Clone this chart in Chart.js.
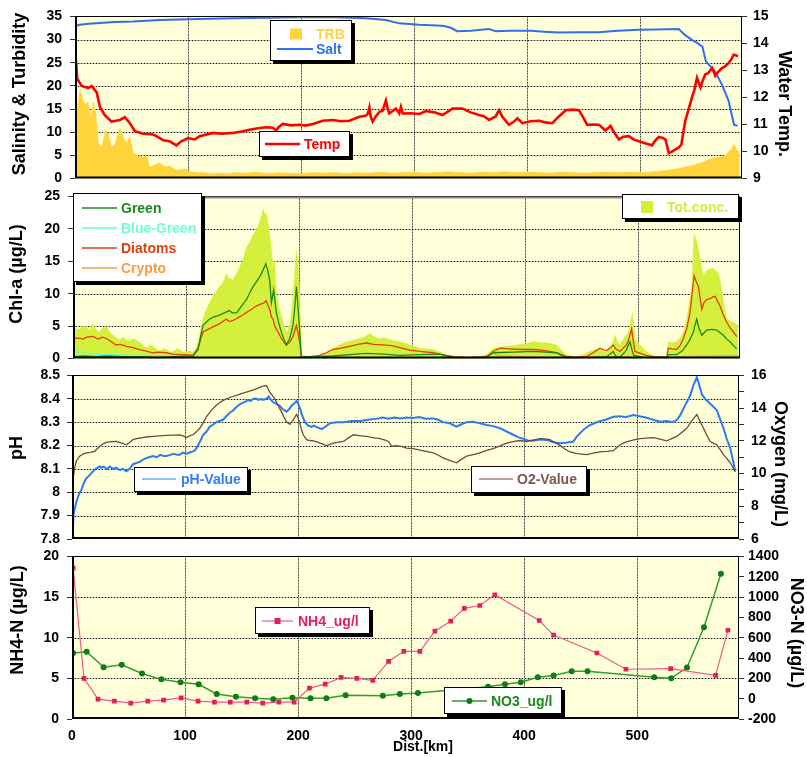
<!DOCTYPE html>
<html lang="en">
<head>
<meta charset="utf-8">
<title>Transect profile</title>
<script src="https://cdn.jsdelivr.net/npm/chart.js@4.4.1/dist/chart.umd.min.js"></script>
<style>
  html, body { margin: 0; padding: 0; background: #ffffff; }
  #page { position: relative; width: 807px; height: 757px; overflow: hidden; background: #ffffff; }
  #page canvas { position: absolute; left: 0; }
</style>
</head>
<body>
<div id="page">
  <canvas id="panelSalt" width="807" height="195" style="top:0px"></canvas>
  <canvas id="panelChl" width="807" height="195" style="top:180px"></canvas>
  <canvas id="panelPh" width="807" height="195" style="top:360px"></canvas>
  <canvas id="panelN" width="807" height="217" style="top:540px"></canvas>
</div>
<script>
// ---------- Readings along the transect: [distance km, value] ----------

// Turbidity (left axis)
const turbidity = [[0,10.8],[0.9,11.2],[2.5,16],[4.4,19.3],[6.8,17.2],[8.8,16.1],[11.8,16.5],[13.8,13.0],[16.2,16.5],[18.5,14.0],
  [20.6,7.7],[23.5,6.7],[27.4,10.5],[29.4,9.8],[32.4,6.7],[35.3,7.4],[39.7,10.9],[42.7,8.8],[45.6,7.7],[48.5,9.0],
  [51.5,5.6],[55.9,4.9],[60.3,4.6],[63.3,5.0],[66.2,2.5],[70.6,3.0],[75,3.4],[79.4,2.5],[83.8,2.7],[89.7,1.8],
  [97.1,2.1],[101.5,1.5],[108,1.3],[113.3,1.3],[120,1.1],[128,1.2],[135,1.1],[142.7,1.3],[150,1.2],[160.4,1.4],
  [170,1.1],[180,1.3],[190,1.2],[200,1.1],[210,1.3],[220,1.2],[230,1.3],[240,1.1],[250,1.3],[260,1.2],
  [270,1.4],[280,1.2],[290,1.3],[300,1.4],[310,1.2],[320,1.3],[330,1.5],[340,1.3],[350,1.2],[360,1.4],
  [370,1.3],[380,1.5],[390,1.3],[400,1.4],[410,1.3],[420,1.2],[430,1.4],[440,1.3],[450,1.2],[460,1.3],
  [470,1.4],[480,1.3],[490,1.4],[500,1.3],[512,1.5],[522,1.75],[534,2.2],[546,2.8],[556,3.6],[563,4.4],
  [570,4.6],[575,4.9],[580,6.3],[583,7.4],[586,6.0],[588,5.8]];

// Salinity (left axis)
const salinity = [[0,31.6],[1,33.0],[4.4,33.2],[12,33.4],[22,33.6],[35,33.8],[51.4,33.9],[75,34.2],[100,34.4],[120,34.5],
  [139.7,34.6],[170,34.7],[198.6,34.8],[230,34.8],[257.4,34.6],[275,34.2],[286.8,33.5],[304.5,33.2],[325,33.0],[332,32.6],
  [338,31.8],[350,31.9],[366,32.3],[372,31.8],[385,31.9],[404,31.9],[415,31.7],[428,31.5],[445,31.6],[463,31.6],
  [480,31.9],[499,32.1],[515,32.2],[534,32.3],[540,30.9],[546,29.9],[551,29.2],[553,28.8],[555,28.5],[558,25.3],
  [566,23.2],[572,20.4],[578,16.9],[583,11.6],[586,11.4]];

// Water temperature (right axis, °C)
const waterTemp = [[0,14.1],[0.6,13.5],[2,12.7],[5.9,12.43],[11.8,12.35],[14.7,12.43],[19.2,12.19],[22,11.65],[26.4,11.35],[32.3,11.11],
  [39.7,11.17],[44.1,11.27],[48.5,11.05],[53,10.75],[60.3,10.66],[69.1,10.63],[72,10.57],[78,10.42],[83.8,10.38],[89.7,10.23],
  [94.1,10.38],[100,10.5],[105.9,10.45],[110.3,10.57],[122,10.69],[130,10.66],[139.7,10.69],[147,10.74],[154.4,10.81],[162,10.86],
  [169.1,10.9],[175,10.88],[178,10.78],[180,10.9],[183.9,11.02],[191,10.97],[198.6,10.99],[204,10.96],[210.4,11.02],[219.2,11.14],
  [228,11.17],[235,11.12],[242.7,11.14],[251.5,11.29],[257,11.32],[259,11.4],[260.4,11.63],[261.5,11.3],[263.3,11.11],[266,11.3],
  [269.2,11.47],[272,11.5],[275,11.89],[276.5,11.6],[278,11.41],[281,11.5],[283.9,11.59],[286.8,11.41],[288.3,11.65],[289.8,11.41],
  [297,11.42],[304.5,11.39],[310.4,11.5],[318,11.45],[325.1,11.35],[333.9,11.59],[342.7,11.59],[350,11.45],[357.5,11.35],[362,11.3],
  [366.3,11.17],[372,11.3],[375.1,11.53],[378,11.29],[383.9,10.99],[388,11.1],[391.3,11.23],[395.7,11.05],[403,11.12],[410.4,11.14],
  [416,11.08],[422.2,11.05],[428,11.3],[434,11.53],[440,11.55],[445.7,11.53],[449,11.3],[453.1,10.99],[458,11.0],[463.4,10.99],
  [469.3,10.78],[473.7,10.95],[477,10.7],[481.1,10.45],[485,10.55],[489.9,10.57],[494,10.45],[498.7,10.38],[505,10.3],[510.5,10.23],
  [513,10.4],[516.4,10.54],[520,10.5],[522.3,10.45],[525.2,9.94],[528,10.0],[531.1,10.08],[534,10.15],[536.4,10.26],[538,10.7],
  [540,11.17],[543,11.6],[545.8,12.01],[548,12.3],[550.2,12.73],[553.2,12.37],[555,12.6],[557.6,12.86],[560,12.9],[563.5,13.09],
  [565,12.95],[566.4,12.8],[569,12.95],[572.3,13.09],[575,13.15],[578.2,13.28],[580.5,13.4],[582.6,13.58],[584.5,13.56],[586.4,13.52]];

// Chlorophyll-a total concentration (µg/L)
const chlTotal = [[0,5.1],[3,4.5],[5.9,4.6],[9,5.0],[11.8,4.9],[14.7,4.4],[17.7,5.4],[20,4.5],[23.6,4.1],[26,4.7],
  [29.5,4.9],[32,4.2],[35.4,3.6],[38,3.2],[41.3,2.9],[44,3.3],[47.2,2.9],[50,2.7],[53.1,3.1],[56,2.8],
  [59,2.6],[62,2.0],[64.9,1.6],[68,2.1],[70.8,1.9],[74,1.4],[76.7,1.1],[80,1.5],[82.6,1.4],[86,1.0],
  [88.5,1.1],[92,1.5],[94.4,1.4],[97,1.0],[100.3,1.1],[103,1.2],[106.2,0.9],[108.5,1.4],[110.6,2.4],[112.5,4.0],
  [115,6.1],[117,7.2],[119.5,8.1],[121.5,8.9],[123.9,9.6],[126.5,10.3],[129.8,11.1],[132.5,11.6],[135.7,13.1],[138,12.4],
  [141.6,12.1],[144.5,13.0],[147.5,14.1],[150.5,15.3],[153.4,17.1],[156.5,18.0],[159.3,19.1],[162,19.8],[165.2,21.1],[166.8,22.0],
  [168.1,23.1],[169.5,22.2],[171,22.4],[172.5,20.8],[174,19.1],[175.5,16.5],[176.9,14.1],[178.5,15.2],[179.9,10.1],[182,8.0],
  [184.3,6.6],[186.5,5.2],[188.7,4.1],[190.2,4.4],[191.7,5.1],[193,7.0],[194.6,9.6],[196,12.8],[197.6,16.6],[198.3,15.6],
  [199,14.6],[200.5,10.0],[202,0.6],[206.4,0.3],[212,0.4],[218.2,0.3],[224,0.9],[230,1.6],[236,2.1],[241.8,2.6],
  [247,2.8],[253.6,3.1],[258,3.3],[262.4,3.9],[266,3.4],[271.3,3.1],[276,3.2],[280.1,2.9],[284,2.8],[289,2.6],
  [294,2.4],[298,2.1],[302,1.9],[306.8,1.6],[312,1.5],[318.6,1.4],[324.5,1.0],[330,0.6],[336.3,0.4],[342,0.3],
  [348.1,0.2],[355,0.3],[360,0.3],[365.8,0.3],[368,1.0],[371.7,1.6],[377.6,1.7],[383.5,1.9],[389,2.0],[395.3,2.2],
  [401,2.3],[407.1,2.6],[413,2.5],[418.9,2.4],[423,2.3],[427.7,2.1],[432,1.3],[436.6,0.6],[441,0.4],[445.4,0.3],
  [450,0.5],[454.3,0.9],[460,1.3],[466.1,1.6],[469,1.2],[472,0.9],[476,1.8],[479.4,3.6],[481.5,2.6],[483.8,2.1],
  [486.5,2.9],[489.7,3.6],[491.5,4.2],[492.7,5.1],[494.1,6.5],[494.7,7.1],[495.6,5.6],[497.1,3.1],[499,2.6],[501.5,2.1],
  [504,1.6],[507.4,1.1],[512,0.6],[516.3,0.3],[521,0.2],[525.1,0.2],[526.6,2.6],[530,2.4],[534,2.6],[537,3.2],
  [539.9,4.1],[541.5,5.0],[542.8,6.1],[545,8.4],[547.3,11.1],[548.3,15.0],[549.4,19.1],[550.5,18.6],[551.7,18.1],[553.2,16.8],
  [554.7,15.6],[556.2,14.0],[557.6,12.6],[559,13.2],[560.6,13.6],[563.5,13.8],[566.5,13.9],[568,13.6],[569.4,13.4],[570.9,13.1],
  [572.4,12.0],[573.8,10.6],[575.3,8.8],[578.3,6.1],[581.2,5.8],[584.2,5.6],[586.5,5.3],[588.6,5.1]];

// Green algae
const chlGreen = [[0,0.3],[10,0.4],[20,0.3],[30,0.4],[45,0.3],[60,0.3],[75,0.2],[90,0.3],[106.2,0.4],[110.6,1.4],
  [113,3.5],[115,5.1],[119.5,5.9],[123.9,6.4],[128,6.6],[132,6.9],[135.7,7.2],[138,7.4],[141.6,7.0],[145,7.1],
  [149,8.1],[153.4,9.1],[156,10.0],[159.3,11.1],[162,11.8],[165.2,12.6],[168,13.6],[170.5,14.6],[172,13.8],[174,12.1],
  [175.5,8.6],[177.5,10.6],[179.9,7.1],[182,5.5],[184.3,4.1],[186.5,3.0],[188.7,2.1],[190.2,2.6],[191.7,3.1],[194.6,5.1],
  [196.5,8.5],[197.6,11.1],[198.6,9.0],[199.6,6.6],[201,3.0],[202,0.3],[215,0.3],[230,0.4],[245,0.6],[259.5,0.8],
  [275,0.7],[289,0.5],[306.8,0.6],[324.5,0.7],[336,0.2],[348,0.1],[365,0.1],[371.7,0.9],[390,1.0],[407.1,1.1],
  [418,1.0],[427.7,0.9],[436.6,0.1],[460,0.2],[472,0.3],[477.9,1.1],[480,0.4],[483.8,0.2],[489,1.2],[492.7,2.6],
  [494.5,1.3],[496,0.5],[505,0.2],[525.1,0.1],[526.6,0.6],[534,0.6],[539,1.2],[542.8,2.1],[546,3.0],[548.8,4.1],
  [550,5.0],[551.7,6.1],[553.5,4.8],[556.2,3.6],[560.6,4.4],[565,4.5],[569.4,4.4],[572.5,4.0],[575.3,3.6],[578.3,3.0],
  [581.2,2.6],[584.2,2.0],[587.1,1.5]];

// Blue-green algae
const chlBlueGreen = [[0,0.4],[1.5,1.0],[3,1.3],[5,1.0],[7,1.2],[10,0.9],[14,0.8],[20,0.7],[25,0.6],[35,0.6],
  [50,0.5],[65,0.5],[80,0.4],[95,0.3],[110,0.2],[130,0.1],[200,0.1],[250,0.1],[300,0.1],[350,0.1],
  [400,0.1],[450,0.1],[500,0.1],[530,0.2],[560,0.2],[588,0.2]];

// Diatoms
const chlDiatoms = [[0,2.9],[3,3.2],[5.9,3.1],[9,3.0],[12,3.3],[17.7,3.4],[22,3.0],[26,3.3],[29.5,3.1],[34,2.6],
  [38,2.1],[42,2.2],[47.2,1.9],[53,1.7],[59,1.4],[64,1.2],[70.8,0.9],[76,1.0],[82.6,0.9],[88,0.7],
  [94.4,0.6],[100,0.6],[106.2,0.5],[110.6,1.6],[113,3.0],[115,4.1],[119.5,4.5],[123.9,4.9],[129.8,5.4],[135.7,6.1],
  [138,5.7],[141.6,5.9],[144,6.1],[148,6.5],[153.4,7.1],[158,7.6],[162,8.1],[166,8.4],[169,8.6],[171,8.9],
  [172.5,8.2],[174,7.6],[175.5,6.4],[176.9,6.1],[178.5,5.0],[181.4,4.1],[184.3,3.1],[188.7,2.1],[191.7,2.5],[194.6,3.4],
  [197.6,5.1],[199,4.0],[200.5,2.6],[202,0.3],[210,0.3],[218.2,0.5],[224,0.9],[230,1.4],[237,1.6],[244.7,1.9],
  [252,2.2],[259.5,2.4],[266,2.2],[274.2,2.1],[282,2.0],[289,1.7],[298,1.3],[306.8,1.1],[318.6,0.9],[326,0.6],
  [336.3,0.3],[350,0.2],[365.8,0.3],[371.7,1.1],[377.6,1.6],[386,1.5],[395,1.4],[407.1,1.4],[414,1.3],[421.8,1.1],
  [428,0.9],[436.6,0.3],[445,0.2],[454.3,0.3],[460,0.9],[466.1,1.6],[472,1.2],[477.9,2.1],[480,1.5],[483.8,1.1],
  [486.5,1.6],[489.7,2.1],[492,3.2],[494.1,4.6],[495.5,2.8],[497.1,1.1],[502,0.8],[507,0.5],[513.3,0.3],[525.1,0.2],
  [526.6,1.6],[530,1.5],[534,1.4],[537,2.0],[539.9,3.1],[542.8,4.6],[545.8,7.1],[547.5,9.8],[549.4,12.8],[551,12.0],
  [553.2,11.1],[554.7,9.3],[556.2,7.6],[558,8.6],[560.6,9.1],[564,9.3],[566,9.5],[568,9.6],[570,8.9],[572.4,8.1],
  [575,6.8],[578.3,5.6],[581,4.8],[584.2,4.1],[587.1,3.4]];

// Cryptophytes
const chlCrypto = [[0,0.2],[40,0.2],[80,0.1],[120,0.1],[200,0.1],[260,0.1],[330,0.1],[360,0.2],[368,0.6],[372,0.9],
  [376,0.4],[420,0.2],[470,0.3],[500,0.2],[540,0.3],[575,0.4],[588,0.4]];

// pH (left axis)
const phValue = [[0.3,7.81],[1.5,7.91],[3.9,7.96],[6,7.99],[8.3,8.01],[10.5,8.04],[12.7,8.06],[15,8.07],[18.6,8.09],[21,8.10],
  [24.5,8.11],[26,8.105],[28,8.11],[31,8.10],[33.4,8.11],[36,8.10],[39,8.105],[42.2,8.095],[45,8.10],[48.1,8.09],
  [51,8.10],[54,8.12],[57,8.125],[60,8.13],[62.8,8.14],[65,8.145],[68,8.15],[71.7,8.155],[75,8.15],[78,8.16],
  [81,8.155],[83.5,8.155],[87,8.16],[90,8.165],[93,8.16],[95.3,8.16],[98,8.17],[101.2,8.165],[104,8.17],[107.1,8.175],
  [109,8.18],[111.5,8.20],[113.5,8.22],[115.9,8.245],[119,8.26],[121.8,8.28],[125,8.29],[127.7,8.30],[130.5,8.305],[133.6,8.31],
  [136.5,8.325],[139.5,8.34],[142.5,8.35],[145.4,8.365],[148,8.375],[150,8.38],[152,8.385],[154.3,8.39],[156,8.395],[158,8.39],
  [160.5,8.40],[163.1,8.40],[165,8.395],[167,8.40],[169,8.395],[172,8.40],[174,8.41],[176,8.395],[177.9,8.385],[180,8.38],
  [183.8,8.37],[186.5,8.355],[189.7,8.345],[192,8.355],[194.2,8.37],[196.5,8.38],[198.6,8.39],[200,8.38],[201.6,8.36],[203.5,8.33],
  [206,8.30],[209,8.285],[211.9,8.28],[214,8.285],[216,8.28],[218.5,8.275],[220.8,8.27],[224,8.28],[228.2,8.295],[234,8.30],
  [240,8.30],[247,8.305],[254.8,8.305],[262,8.31],[269.6,8.315],[275,8.32],[280,8.315],[285,8.32],[290,8.316],[296,8.32],
  [301.8,8.318],[307,8.322],[313,8.315],[319.5,8.316],[324,8.31],[328.3,8.30],[334.2,8.295],[340.1,8.281],[344,8.29],[349,8.30],
  [354.9,8.302],[360.8,8.295],[366.7,8.288],[372.6,8.283],[378.5,8.274],[384.4,8.26],[390.3,8.246],[395,8.235],[399.2,8.229],[403,8.222],
  [408.1,8.22],[414,8.226],[419.9,8.224],[425,8.215],[431.7,8.21],[437,8.212],[443.5,8.217],[446,8.235],[449.4,8.253],[453,8.27],
  [458.3,8.288],[462,8.295],[467.1,8.305],[472,8.31],[478.9,8.323],[484,8.325],[490,8.322],[496.6,8.33],[502,8.325],[508.4,8.319],
  [514,8.31],[520.2,8.302],[526,8.305],[531,8.30],[535,8.309],[538,8.33],[540.9,8.358],[543.8,8.385],[546.8,8.414],[549.5,8.455],
  [552.7,8.492],[554.8,8.46],[557.1,8.42],[560,8.40],[563,8.386],[566.5,8.37],[570.4,8.351],[573.5,8.31],[576.3,8.274],[579,8.23],
  [582.2,8.189],[584.5,8.14],[586.6,8.091]];

// Dissolved oxygen (right axis, mg/L)
const oxygen = [[0.3,8.8],[1.2,9.8],[2.4,10.36],[4,10.8],[6.8,11.06],[10,11.2],[12.7,11.26],[16,11.3],[20.1,11.36],[22,11.5],
  [24.5,11.66],[27,11.8],[30.4,11.90],[35,11.95],[39.2,11.96],[44,11.86],[48.1,11.76],[51,11.9],[54,12.07],[58,12.15],
  [62.8,12.20],[67,12.25],[71.7,12.27],[77,12.30],[83.5,12.33],[90,12.35],[95.3,12.37],[98,12.3],[101.2,12.20],[104,12.3],
  [107.1,12.37],[110,12.55],[113,12.77],[116,13.1],[118.9,13.47],[123,13.85],[127.7,14.17],[132,14.4],[136.6,14.57],[141,14.68],
  [145.4,14.78],[150,14.88],[154.3,14.98],[159,15.08],[163.1,15.18],[166,15.27],[169,15.34],[172,15.38],[174.9,14.98],[177,14.8],
  [179.4,14.57],[182,14.2],[185.3,13.77],[187.5,13.45],[189.7,13.17],[192.7,13.01],[195.6,13.27],[198.6,13.61],[200,13.4],[201.6,13.07],
  [203,12.7],[204.5,12.37],[207.5,12.07],[210,12.02],[213.4,12.0],[216,11.95],[219.3,11.86],[222,11.8],[225.2,11.70],[228,11.78],
  [231.2,11.86],[235,11.9],[240,11.96],[244,12.15],[248.9,12.37],[254,12.32],[260.7,12.27],[266,12.2],[272.5,12.13],[277,12.05],
  [279.9,11.96],[281.5,11.8],[282.9,11.66],[286,11.7],[290.3,11.68],[296,11.56],[301.8,11.52],[310,11.4],[319.5,11.26],[324,11.12],
  [328.3,10.96],[334,10.8],[340.1,10.66],[344,10.85],[349,11.06],[355,11.16],[360.8,11.26],[366,11.4],[372.6,11.52],[378,11.68],
  [384.4,11.86],[390,11.95],[396.2,12.02],[402.2,11.96],[408,12.05],[414,12.13],[418,12.12],[422.8,12.07],[427,11.9],[431.7,11.72],
  [436,11.5],[440.5,11.32],[447,11.22],[455.3,11.16],[461,11.25],[467.1,11.32],[473,11.35],[478.9,11.40],[484.8,11.76],[489,11.9],
  [493.6,12.0],[498,12.08],[502.5,12.13],[508,12.17],[514.3,12.2],[520,12.1],[526.1,12.0],[530,12.12],[535,12.27],[539,12.5],
  [543.8,12.77],[548,13.2],[552.7,13.61],[555.5,13.2],[558.6,12.77],[561.5,12.35],[564.5,11.96],[567.5,11.85],[570.4,11.76],[573.5,11.45],
  [576.3,11.16],[579.5,10.9],[582.2,10.66],[584.5,10.4],[586.6,10.09]];

// Ammonium, station samples (left axis, µg/L)
const ammonium = [[1,18.56],[10.6,5.0],[23,2.44],[37.5,2.2],[52,1.96],[67,2.2],[81,2.32],[96.5,2.6],[111.5,2.2],[126,2.08],
  [140,2.08],[154.6,2.08],[168.7,1.96],[183,2.08],[196.5,2.08],[210,3.8],[224,4.28],[238,5.12],[252,5.0],[266,4.76],
  [280,7.08],[293.5,8.32],[307.7,8.32],[321,10.8],[335,12.04],[347,13.6],[360.7,13.96],[374,15.28],[413.3,12.12],[426,10.32],
  [464.3,8.12],[490,6.12],[529.5,6.2],[569.3,5.36],[580.2,10.92]];

// Nitrate, station samples (right axis, µg/L)
const nitrate = [[1,450],[13,462],[28,309],[44,334],[62,248],[79,190],[96,162],[112,142],[128,46],[145,18],
  [162,5],[178,-5],[195,8],[211,5],[225,5],[242,34],[275,30],[290,46],[306,56],[368,117],
  [383,142],[397,162],[412,210],[426,229],[442,270],[456,270],[515,210],[530,200],[544,306],[559,702],
  [574,1230]];

// Distance axis ticks (km)
const distRange = [0, 590];
const distTickValues = [0, 100, 200, 300, 400, 500];

// Value axis ranges
const saltTicks = { min: 0, max: 35, step: 5 };
const tempTicks = { min: 9, max: 15, step: 1 };
const chlTicks = { min: 0, max: 25, step: 5 };
const phTicks = { min: 7.8, max: 8.5, step: 0.1 };
const o2Ticks = { min: 6, max: 16, step: 1 };
const nh4Ticks = { min: 0, max: 20, step: 5 };
const no3Ticks = { min: -200, max: 1400, step: 200 };

// ---------- Shared styling ----------
const FONT = '"Liberation Sans", Arial, Helvetica, sans-serif';
Chart.defaults.font.family = FONT;
Chart.defaults.font.size = 14;
Chart.defaults.font.weight = 'bold';
Chart.defaults.color = '#000';

const PLOT_BG = '#FFFFDA';
const toPoints = rows => rows.map(r => ({ x: r[0], y: r[1] }));

// Plot background, two-layer grid (grey line + black dots) and frame
const plotFrame = {
  id: 'plotFrame',
  beforeDraw(chart) {
    const { ctx, chartArea: a } = chart;
    ctx.save();
    ctx.fillStyle = PLOT_BG;
    ctx.fillRect(a.left, a.top, a.right - a.left, a.bottom - a.top);
    ctx.restore();
  },
  beforeDatasetsDraw(chart) {
    const { ctx, chartArea: a } = chart;
    const xs = chart.scales.x, ys = chart.scales.y;
    const vx = xs.ticks.map(t => xs.getPixelForValue(t.value)).filter(p => p > a.left + 2 && p < a.right - 2);
    const hy = ys.ticks.map(t => ys.getPixelForValue(t.value)).filter(p => p > a.top + 2 && p < a.bottom - 2);
    ctx.save();
    const pass = (style, dash) => {
      ctx.strokeStyle = style;
      ctx.lineWidth = 1;
      ctx.setLineDash(dash);
      ctx.beginPath();
      vx.forEach(p => { const q = Math.round(p) + 0.5; ctx.moveTo(q, a.top); ctx.lineTo(q, a.bottom); });
      hy.forEach(p => { const q = Math.round(p) + 0.5; ctx.moveTo(a.left, q); ctx.lineTo(a.right, q); });
      ctx.stroke();
    };
    pass('#b9b9a6', []);
    pass('#141414', [1, 2]);
    ctx.restore();
  },
  afterDatasetsDraw(chart, args, opts) {
    const { ctx, chartArea: a } = chart;
    ctx.save();
    ctx.setLineDash([]);
    ctx.strokeStyle = '#000';
    ctx.lineWidth = 1;
    ctx.strokeRect(Math.round(a.left) + 0.5, Math.round(a.top) + 0.5,
      Math.round(a.right - a.left) - 1, Math.round(a.bottom - a.top) - 1);
    if (opts.topColor) {
      ctx.strokeStyle = opts.topColor;
      ctx.lineWidth = 2;
      ctx.beginPath(); ctx.moveTo(a.left, a.top + 1); ctx.lineTo(a.right, a.top + 1); ctx.stroke();
    }
    ctx.strokeStyle = '#000';
    ctx.lineWidth = 2;
    ctx.beginPath();
    ctx.moveTo(a.left + 1, a.top); ctx.lineTo(a.left + 1, a.bottom - 1); ctx.lineTo(a.right, a.bottom - 1);
    ctx.stroke();
    ctx.restore();
  }
};

// Boxed legends with a drop shadow, placed inside the plot
const boxLegend = {
  id: 'boxLegend',
  afterDraw(chart, args, opts) {
    const ctx = chart.ctx;
    const off = opts.offsetY || 0;
    (opts.boxes || []).forEach(b => {
      const y0 = b.y - off;
      ctx.save();
      ctx.fillStyle = '#000';
      ctx.fillRect(b.x + 3, y0 + 3, b.w, b.h);
      ctx.fillStyle = '#fff';
      ctx.fillRect(b.x, y0, b.w, b.h);
      ctx.strokeStyle = '#000';
      ctx.lineWidth = 1;
      ctx.strokeRect(b.x + 0.5, y0 + 0.5, b.w - 1, b.h - 1);
      b.items.forEach(it => {
        const ds = chart.data.datasets[it.ds];
        const cy = it.y - off;
        if (it.kind === 'rect') {
          ctx.fillStyle = ds.backgroundColor;
          ctx.fillRect(it.x0, cy - it.size / 2, it.x1 - it.x0, it.size);
        } else {
          ctx.strokeStyle = ds.borderColor;
          ctx.lineWidth = it.lw || 1.5;
          ctx.beginPath(); ctx.moveTo(it.x0, cy); ctx.lineTo(it.x1, cy); ctx.stroke();
          if (it.marker) {
            const mx = (it.x0 + it.x1) / 2;
            ctx.fillStyle = ds.pointBackgroundColor;
            if (it.marker === 'rect') { ctx.fillRect(mx - 3, cy - 3, 6, 6); }
            else { ctx.beginPath(); ctx.arc(mx, cy, 3, 0, Math.PI * 2); ctx.fill(); }
          }
        }
        ctx.font = 'bold 14px ' + FONT;
        ctx.fillStyle = it.textColor;
        ctx.textAlign = 'left';
        ctx.textBaseline = 'middle';
        ctx.fillText(ds.label, it.tx, cy + 1);
      });
      ctx.restore();
    });
  }
};

// Axis titles (rotated for the vertical axes)
const axisTitles = {
  id: 'axisTitles',
  afterDraw(chart, args, opts) {
    const ctx = chart.ctx;
    const off = opts.offsetY || 0;
    (opts.items || []).forEach(t => {
      ctx.save();
      ctx.translate(t.x, t.y - off);
      ctx.rotate((t.rot || 0) * Math.PI / 2);
      ctx.font = 'bold ' + (t.size || 18) + 'px ' + FONT;
      ctx.fillStyle = '#000';
      ctx.textAlign = 'center';
      ctx.textBaseline = 'middle';
      ctx.fillText(t.text, 0, 0);
      ctx.restore();
    });
  }
};

Chart.register(plotFrame, boxLegend, axisTitles);

// ---------- Scale builders ----------
function distScale(showLabels) {
  return {
    type: 'linear', min: distRange[0], max: distRange[1],
    afterBuildTicks: s => { s.ticks = distTickValues.map(v => ({ value: v })); },
    ticks: { display: showLabels, padding: 9, autoSkip: false, maxRotation: 0,
      font: { size: 14, weight: 'bold' }, callback: v => String(v) },
    grid: { display: true, drawOnChartArea: false, drawTicks: false },
    border: { display: false },
    afterFit: s => { s.height = showLabels ? 38 : 0; }
  };
}
function valueScale(pos, t, width, pad, fmt) {
  return {
    type: 'linear', position: pos, min: t.min, max: t.max,
    ticks: { stepSize: t.step, padding: pad, autoSkip: false,
      font: { size: 14, weight: 'bold' }, callback: fmt || (v => String(v)) },
    grid: { display: true, drawOnChartArea: false, drawTicks: true, tickLength: 5, color: '#333', tickColor: '#333' },
    border: { display: false },
    afterFit: s => { s.width = width; }
  };
}
function baseOptions(padding) {
  return {
    responsive: false, animation: false, devicePixelRatio: 1,
    layout: { padding },
    events: [],
    elements: { point: { radius: 0 }, line: { tension: 0 } },
  };
}
function lineSet(label, rows, color, width, axis, order) {
  return { label, data: toPoints(rows), borderColor: color, backgroundColor: color, borderWidth: width,
    pointRadius: 0, fill: false, yAxisID: axis, order };
}
function areaSet(label, rows, color, axis, order) {
  return { label, data: toPoints(rows), borderColor: color, backgroundColor: color, borderWidth: 0.5,
    pointRadius: 0, fill: 'origin', yAxisID: axis, order };
}

// ---------- Panel 1: salinity, turbidity and water temperature ----------
new Chart(document.getElementById('panelSalt'), {
  type: 'line',
  data: { datasets: [
    lineSet('Salt', salinity, '#2E6FF2', 2, 'y', 1),
    lineSet('Temp', waterTemp, '#FF0000', 2.6, 'y2', 0),
    areaSet('TRB', turbidity, '#FFD43B', 'y', 5)
  ]},
  options: Object.assign(baseOptions({ top: 14, bottom: 15, left: 0, right: 0 }), {
    scales: {
      x: distScale(false),
      y: valueScale('left', saltTicks, 75, 8),
      y2: valueScale('right', tempTicks, 65, 6)
    },
    plugins: {
      legend: { display: false }, tooltip: { enabled: false },
      plotFrame: {},
      boxLegend: { offsetY: 0, boxes: [
        { x: 270, y: 20, w: 82, h: 41, items: [
          { ds: 2, kind: 'rect', x0: 290, x1: 302, size: 11, tx: 316, y: 34, textColor: '#FFD13B' },
          { ds: 0, kind: 'line', x0: 277, x1: 313, lw: 2, tx: 316, y: 49, textColor: '#2F72F0' } ] },
        { x: 259, y: 131, w: 91, h: 26, items: [
          { ds: 1, kind: 'line', x0: 265, x1: 300, lw: 2.5, tx: 304, y: 144, textColor: '#FF0000' } ] }
      ]},
      axisTitles: { offsetY: 0, items: [
        { text: 'Salinity & Turbidity', x: 20.5, y: 94, rot: -1 },
        { text: 'Water Temp.', x: 784, y: 104, rot: 1 } ] }
    }
  })
});

// ---------- Panel 2: chlorophyll-a by algal class ----------
new Chart(document.getElementById('panelChl'), {
  type: 'line',
  data: { datasets: [
    lineSet('Green', chlGreen, '#1B8A1B', 1.3, 'y', 0),
    lineSet('Blue-Green', chlBlueGreen, '#66FFCC', 1.3, 'y', 2),
    lineSet('Diatoms', chlDiatoms, '#E0400E', 1.3, 'y', 1),
    lineSet('Crypto', chlCrypto, '#FF9B3D', 1.3, 'y', 3),
    areaSet('Tot.conc.', chlTotal, '#D4F03C', 'y', 10)
  ]},
  options: Object.assign(baseOptions({ top: 13, bottom: 16, left: 0, right: 67 }), {
    scales: {
      x: distScale(false),
      y: valueScale('left', chlTicks, 73, 8)
    },
    plugins: {
      legend: { display: false }, tooltip: { enabled: false },
      plotFrame: { topColor: '#8c8c8c' },
      boxLegend: { offsetY: 180, boxes: [
        { x: 73, y: 193, w: 129, h: 89, items: [
          { ds: 0, kind: 'line', x0: 82, x1: 117, tx: 121, y: 208, textColor: '#1B8A1B' },
          { ds: 1, kind: 'line', x0: 82, x1: 117, tx: 121, y: 228, textColor: '#6FFFD0' },
          { ds: 2, kind: 'line', x0: 82, x1: 117, tx: 121, y: 248, textColor: '#E0400E' },
          { ds: 3, kind: 'line', x0: 82, x1: 117, tx: 121, y: 268, textColor: '#FF9B3D' } ] },
        { x: 622, y: 194, w: 117, h: 25, items: [
          { ds: 4, kind: 'rect', x0: 641, x1: 653, size: 12, tx: 667, y: 207, textColor: '#D2EE3A' } ] }
      ]},
      axisTitles: { offsetY: 180, items: [
        { text: 'Chl-a (µg/L)', x: 17, y: 274, rot: -1 } ] }
    }
  })
});

// ---------- Panel 3: pH and dissolved oxygen ----------
new Chart(document.getElementById('panelPh'), {
  type: 'line',
  data: { datasets: [
    lineSet('pH-Value', phValue, '#2D7BF4', 2, 'y', 1),
    lineSet('O2-Value', oxygen, '#6E4C3C', 1.3, 'y2', 0)
  ]},
  options: Object.assign(baseOptions({ top: 13, bottom: 16, left: 0, right: 0 }), {
    scales: {
      x: distScale(false),
      y: valueScale('left', phTicks, 72, 7, v => String(Math.round(v * 10) / 10)),
      y2: valueScale('right', o2Ticks, 68, 7, v => (Math.round(v) % 2 === 0 ? String(Math.round(v)) : ''))
    },
    plugins: {
      legend: { display: false }, tooltip: { enabled: false },
      plotFrame: {},
      boxLegend: { offsetY: 360, boxes: [
        { x: 134, y: 467, w: 114, h: 25, items: [
          { ds: 0, kind: 'line', x0: 142, x1: 176, lw: 1.2, tx: 181, y: 479, textColor: '#2F7CF6' } ] },
        { x: 471, y: 466, w: 116, h: 27, items: [
          { ds: 1, kind: 'line', x0: 479, x1: 513, lw: 1.2, tx: 517, y: 479, textColor: '#7A5A4C' } ] }
      ]},
      axisTitles: { offsetY: 360, items: [
        { text: 'pH', x: 17, y: 448, rot: -1 },
        { text: 'Oxygen (mg/L)', x: 780, y: 464, rot: 1 } ] }
    }
  })
});

// ---------- Panel 4: ammonium and nitrate samples ----------
new Chart(document.getElementById('panelN'), {
  type: 'line',
  data: { datasets: [
    { label: 'NH4_ug/l', data: toPoints(ammonium), borderColor: '#EE5A86', backgroundColor: '#E41E5C',
      borderWidth: 1.2, pointStyle: 'rect', pointRadius: 3.3, pointBackgroundColor: '#E41E5C',
      pointBorderWidth: 0, yAxisID: 'y', order: 0 },
    { label: 'NO3_ug/l', data: toPoints(nitrate), borderColor: '#2E9E2E', backgroundColor: '#0E7E14',
      borderWidth: 1.5, pointStyle: 'circle', pointRadius: 3, pointBackgroundColor: '#0E7E14',
      pointBorderWidth: 0, yAxisID: 'y2', order: 1 }
  ]},
  options: Object.assign(baseOptions({ top: 14, bottom: 0, left: 0, right: 0 }), {
    scales: {
      x: distScale(true),
      y: valueScale('left', nh4Ticks, 72, 8),
      y2: valueScale('right', no3Ticks, 68, 4)
    },
    plugins: {
      legend: { display: false }, tooltip: { enabled: false },
      plotFrame: {},
      boxLegend: { offsetY: 540, boxes: [
        { x: 255, y: 607, w: 115, h: 27, items: [
          { ds: 0, kind: 'line', x0: 262, x1: 293, lw: 1.2, marker: 'rect', tx: 298, y: 621, textColor: '#E41E5C' } ] },
        { x: 444, y: 687, w: 118, h: 27, items: [
          { ds: 1, kind: 'line', x0: 452, x1: 487, lw: 1.5, marker: 'circle', tx: 491, y: 701, textColor: '#1B8A1B' } ] }
      ]},
      axisTitles: { offsetY: 540, items: [
        { text: 'NH4-N (µg/L)', x: 18, y: 620, rot: -1 },
        { text: 'NO3-N (µg/L)', x: 796, y: 633, rot: 1 },
        { text: 'Dist.[km]', x: 423, y: 747, rot: 0, size: 14 } ] }
    }
  })
});
</script>
</body>
</html>
